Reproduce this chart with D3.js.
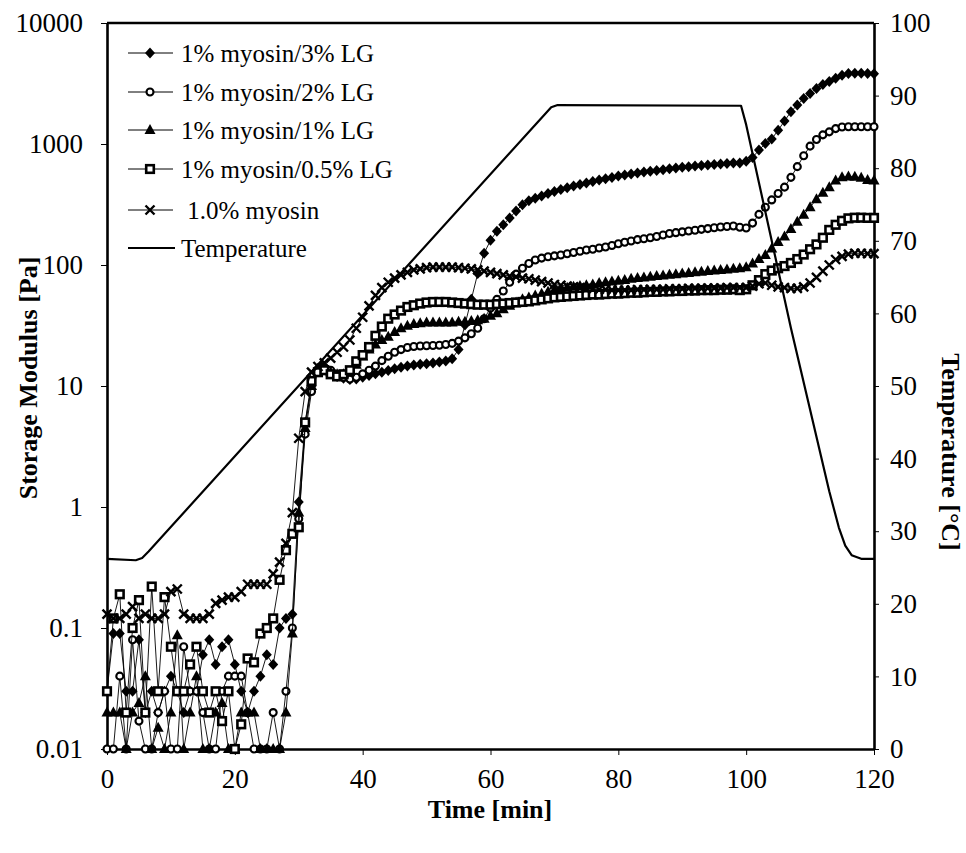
<!DOCTYPE html>
<html>
<head>
<meta charset="utf-8">
<script src="https://cdn.jsdelivr.net/npm/d3@7"></script>
<style>
  body { margin: 0; background: #fff; }
  text { font-family: "Liberation Serif", "Times New Roman", serif; fill: #000; }
</style>
</head>
<body>
<div id="chart"></div>
<script>
// time of each storage modulus reading [min]
var minutes = [0,1,2,3,4,5,6,7,8,9,10,11,12,13,14,15,16,17,18,19,20,21,22,23,24,25,26,27,28,29,
  30,31,32,33,34,35,36,37,38,39,40,41,42,43,44,45,46,47,48,49,50,51,52,53,54,55,56,57,58,59,
  60,61,62,63,64,65,66,67,68,69,70,71,72,73,74,75,76,77,78,79,80,81,82,83,84,85,86,87,88,89,
  90,91,92,93,94,95,96,97,98,99,100,101,102,103,104,105,106,107,108,109,110,111,112,113,114,
  115,116,117,118,119,120];

// storage modulus [Pa]
var lg3 = [0.03,0.09,0.09,0.03,0.03,0.08,0.02,0.03,0.02,0.03,
  0.04,0.03,0.02,0.03,0.03,0.06,0.08,0.05,0.07,0.08,
  0.05,0.03,0.02,0.03,0.04,0.06,0.05,0.1,0.12,0.13,
  1.1,5,10,14,14.5,12.8,12,11.6,11.3,11.4,
  11.8,12.2,12.6,13,13.4,13.9,14.3,14.6,14.9,15.1,
  15.3,15.5,15.8,16.1,16.8,20,32,52,85,125,
  160,190,215,245,280,315,340,357,372,390,
  405,420,435,450,463,476,490,503,515,528,
  544,555,566,576,586,596,605,614,623,632,
  641,649,657,664,671,678,684,690,695,698,
  720,775,890,1010,1100,1300,1550,1850,2100,2380,
  2620,2880,3100,3280,3500,3700,3820,3850,3850,3820,
  3800];

var lg2 = [0.01,0.01,0.04,0.01,0.08,0.017,0.01,0.01,0.02,0.03,
  0.01,0.01,0.07,0.03,0.03,0.02,0.01,0.01,0.03,0.04,
  0.04,0.04,0.02,0.01,0.01,0.01,0.02,0.01,0.03,0.1,
  0.8,4,9,13,14,13.5,12.5,11.8,11.4,11.8,
  12.6,13.5,14.6,16.2,17.6,19,20,20.8,21.2,21.4,
  21.5,21.6,21.7,22,22.5,23.5,25,27,30,36,
  44,52,61,72,84,94,103,110,114,117,
  119,121,124,127,130,133,135,138,141,145,
  150,154,158,162,165,168,172,177,182,185,
  188,191,194,197,200,203,206,208,210,205,
  202,222,262,300,345,390,440,530,650,800,
  960,1090,1190,1260,1340,1380,1390,1390,1390,1390,
  1390];

var lg1 = [0.02,0.02,0.02,0.01,0.02,0.024,0.04,0.01,0.015,0.01,
  0.02,0.087,0.01,0.02,0.04,0.01,0.01,0.02,0.024,0.01,
  0.01,0.02,0.02,0.02,0.01,0.01,0.01,0.01,0.02,0.09,
  0.9,4.5,10,13.5,14,13,12.5,12.5,13,15,
  17.5,20,22,24,25.5,28,30,31.5,32.5,33,
  33.5,33.5,33.5,33.5,33.5,34,34,34.5,35,36,
  38,40,43,46,49,52,54,56,58,60,
  62,63,65,66,67,68,69,71,72,73,
  74,75,77,78,79,80,81,82,83,84,
  85,86,87,88,89,90,91,92,93,94,
  96,103,112,121,137,155,172,198,228,260,
  300,350,395,440,500,530,540,535,525,505,
  500];

var lg05 = [0.03,0.12,0.19,0.02,0.1,0.17,0.02,0.22,0.03,0.18,
  0.07,0.03,0.03,0.05,0.07,0.03,0.02,0.03,0.017,0.03,
  0.01,0.016,0.056,0.052,0.09,0.1,0.12,0.25,0.44,0.6,
  0.68,5,11,13,13.5,12.5,12,12.5,13.5,16,
  18,21,26,31,36,39,42,45,46.5,48,
  49,49.5,49.5,49.5,49,48.5,48,47.5,47,47,
  47,47.5,48,48.5,49,49.5,50,51,52,53,
  54,54.5,55,55.5,56,56.5,57,57,57.5,58,
  58,58.5,59,59,59.5,60,60,60.5,60.5,61,
  61,61.5,61.5,62,62,62,62.5,62.5,63,62,
  63,68,75,84,90,94,98,104,112,122,
  135,148,168,195,215,232,243,246,246,245,
  245];

var myosin = [0.13,0.12,0.12,0.13,0.15,0.12,0.13,0.12,0.12,0.13,
  0.2,0.21,0.13,0.12,0.12,0.12,0.13,0.16,0.17,0.18,
  0.18,0.2,0.23,0.23,0.23,0.23,0.28,0.35,0.5,0.9,
  3.7,9,13,14.5,15.5,17,19,21,24,30,
  37,46,56,65,72,78,83,87,91,93,
  95,96,96,96,96,95,94,93,91,89,
  87,85,83,81,80,78,77,75,73,71,
  69,68,67,66,65,64,63.5,63,62.5,62,
  62,62,62,62.5,62.5,63,63,63,63.5,63.5,
  63.5,64,64,64,64.5,64.5,64.5,65,65,65,
  65,67,70,71,68,66,65,64,64,66,
  71,79,89,100,111,118,123,125,125,124,
  124];

// temperature program [°C]
var tempTime  = [0, 4.5, 5.5, 6.5, 69.5, 70.5, 99.2, 100, 107, 113, 114.5, 115.5, 116.5, 118, 120];
var tempValue = [26.2, 26, 26.3, 27.2, 88.4, 88.7, 88.6, 86, 58, 35.5, 30.5, 28, 26.7, 26.2, 26.2];

var seriesNames = ["1% myosin/3% LG", "1% myosin/2% LG", "1% myosin/1% LG", "1% myosin/0.5% LG", " 1.0% myosin"];
var seriesMarkers = ["diamond", "circle", "triangle", "square", "cross"];
var seriesValues = [lg3, lg2, lg1, lg05, myosin];

var modulusTicks = [0.01, 0.1, 1, 10, 100, 1000, 10000];
var modulusLabels = ["0.01", "0.1", "1", "10", "100", "1000", "10000"];
var timeTicks = [0, 20, 40, 60, 80, 100, 120];
var tempTicks = [0, 10, 20, 30, 40, 50, 60, 70, 80, 90, 100];

// plot box
var boxL = 107, boxR = 874, boxT = 23, boxB = 749;

var svg = d3.select("#chart").append("svg")
    .attr("width", 966)
    .attr("height", 853);

var x = d3.scaleLinear().domain([0, 120]).range([boxL, boxR]);
var y = d3.scaleLog().domain([0.01, 10000]).range([boxB, boxT]);
var yT = d3.scaleLinear().domain([0, 100]).range([boxB, boxT]);

// draws one marker of the given kind at (cx, cy)
function marker(g, kind, cx, cy) {
  if (kind == "diamond") {
    g.append("path").attr("d", "M" + cx + "," + (cy - 5.5) + "L" + (cx + 5) + "," + cy +
        "L" + cx + "," + (cy + 5.5) + "L" + (cx - 5) + "," + cy + "Z")
      .attr("fill", "#000");
  } else if (kind == "circle") {
    g.append("circle").attr("cx", cx).attr("cy", cy).attr("r", 3.5)
      .attr("fill", "#fff").attr("stroke", "#000").attr("stroke-width", 2.1);
  } else if (kind == "triangle") {
    g.append("path").attr("d", "M" + cx + "," + (cy - 6) + "L" + (cx + 5.5) + "," + (cy + 4) +
        "L" + (cx - 5.5) + "," + (cy + 4) + "Z")
      .attr("fill", "#000");
  } else if (kind == "square") {
    g.append("rect").attr("x", cx - 3.8).attr("y", cy - 3.8).attr("width", 7.6).attr("height", 7.6)
      .attr("fill", "#fff").attr("stroke", "#000").attr("stroke-width", 2.6);
  } else {
    g.append("path").attr("d", "M" + (cx - 4.5) + "," + (cy - 4.5) + "L" + (cx + 4.5) + "," + (cy + 4.5) +
        "M" + (cx - 4.5) + "," + (cy + 4.5) + "L" + (cx + 4.5) + "," + (cy - 4.5))
      .attr("stroke", "#000").attr("stroke-width", 2.4).attr("fill", "none");
  }
}

// axes
svg.append("g")
    .attr("transform", "translate(" + boxL + ",0)")
    .call(d3.axisLeft(y).tickValues(modulusTicks)
      .tickFormat(function(d, i) { return modulusLabels[i]; })
      .tickSize(6).tickSizeOuter(0).tickPadding(18));

svg.append("g")
    .attr("transform", "translate(" + boxR + ",0)")
    .call(d3.axisRight(yT).tickValues(tempTicks).tickSize(5).tickSizeOuter(0).tickPadding(11));

svg.append("g")
    .attr("transform", "translate(0," + boxB + ")")
    .call(d3.axisBottom(x).tickValues(timeTicks).tickSize(6).tickSizeOuter(0).tickPadding(14));

svg.selectAll(".domain").attr("stroke", "#000").attr("stroke-width", 2.6);
svg.selectAll(".tick line").attr("stroke", "#000").attr("stroke-width", 1);
svg.selectAll(".tick text").style("font-size", "27px").attr("fill", "#000");

// top border of the box
svg.append("line")
    .attr("x1", boxL).attr("x2", boxR).attr("y1", boxT).attr("y2", boxT)
    .attr("stroke", "#000").attr("stroke-width", 2.4);

// storage modulus series
var line = d3.line()
    .x(function(d, i) { return x(minutes[i]); })
    .y(function(d) { return y(d); });

seriesValues.forEach(function(vals, s) {
  var g = svg.append("g");
  g.append("path")
    .attr("d", line(vals))
    .attr("fill", "none")
    .attr("stroke", "#000")
    .attr("stroke-width", 0.9);
  vals.forEach(function(v, i) {
    marker(g, seriesMarkers[s], x(minutes[i]), y(v));
  });
});

// temperature line
var tempLine = d3.line()
    .x(function(d, i) { return x(tempTime[i]); })
    .y(function(d) { return yT(d); });

svg.append("path")
    .attr("d", tempLine(tempValue))
    .attr("fill", "none")
    .attr("stroke", "#000")
    .attr("stroke-width", 2.2)
    .attr("stroke-linejoin", "round");

// legend
var legendY = [53, 92, 130, 169, 210, 248];
var legend = svg.append("g");
seriesNames.forEach(function(name, s) {
  legend.append("line")
    .attr("x1", 128).attr("x2", 173).attr("y1", legendY[s]).attr("y2", legendY[s])
    .attr("stroke", "#000").attr("stroke-width", 1);
  marker(legend, seriesMarkers[s], 150, legendY[s]);
  legend.append("text")
    .attr("x", 181).attr("y", legendY[s])
    .attr("dy", "0.35em")
    .style("font-size", "25px")
    .style("white-space", "pre")
    .text(name);
});
legend.append("line")
  .attr("x1", 128).attr("x2", 175).attr("y1", legendY[5]).attr("y2", legendY[5])
  .attr("stroke", "#000").attr("stroke-width", 2.2);
legend.append("text")
  .attr("x", 181).attr("y", legendY[5])
  .attr("dy", "0.35em")
  .style("font-size", "25px")
  .text("Temperature");

// axis titles
svg.append("text")
    .attr("x", 490).attr("y", 818)
    .attr("text-anchor", "middle")
    .style("font-size", "26px").style("font-weight", "bold")
    .text("Time [min]");

svg.append("text")
    .attr("transform", "translate(37,378) rotate(-90)")
    .attr("text-anchor", "middle")
    .style("font-size", "26px").style("font-weight", "bold")
    .text("Storage Modulus [Pa]");

svg.append("text")
    .attr("transform", "translate(942,452) rotate(90)")
    .attr("text-anchor", "middle")
    .style("font-size", "26px").style("font-weight", "bold")
    .text("Temperature [\u00B0C]");
</script>
</body>
</html>
